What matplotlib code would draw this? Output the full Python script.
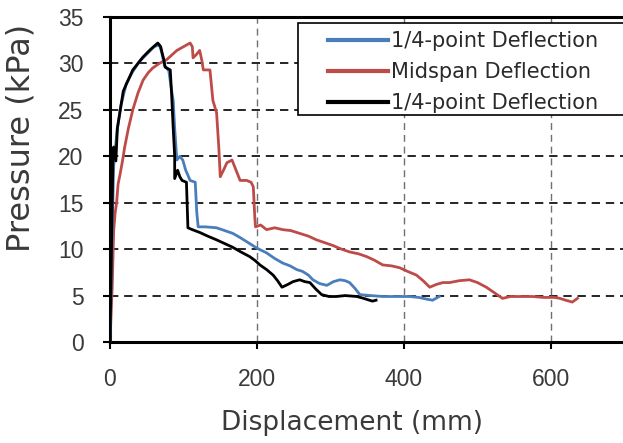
import matplotlib
matplotlib.use("Agg")
import matplotlib.pyplot as plt
from matplotlib.patches import Rectangle

plt.rcParams['font.family'] = ['Liberation Sans', 'DejaVu Sans']

# quarter-point deflection (blue)
quarter_x = [0, 3, 5, 10, 15, 22, 30, 40, 50, 60, 67, 70, 74, 80, 84, 86, 88, 91,
             95, 99, 103, 109, 116, 118, 120, 130, 145, 156, 167, 178, 190, 200,
             213, 224, 235, 245, 254, 262, 270, 276, 285, 295, 304, 313, 320, 326,
             333, 340, 355, 371, 390, 408, 420, 432, 439, 448]
quarter_p = [0, 12, 19, 23, 25.5, 27.8, 29, 30.2, 31, 31.8, 32.0, 31.3, 29.8, 29.2,
             27, 26, 23, 19.6, 20, 19.6, 18.5, 17.4, 17.2, 14, 12.4, 12.4, 12.3,
             12.0, 11.7, 11.2, 10.6, 10.1, 9.6, 9.0, 8.5, 8.2, 7.8, 7.6, 7.2, 6.7,
             6.3, 6.1, 6.5, 6.7, 6.6, 6.4, 5.8, 5.1, 5.0, 4.9, 4.9, 4.9, 4.8, 4.6,
             4.5, 4.9]

# midspan deflection (red)
mid_x = [0, 3, 5, 7, 9, 11, 14, 17, 20, 25, 31, 38, 45, 52, 58, 67, 77, 84, 91,
         100, 109, 112, 113, 118, 122, 125, 127, 136, 140, 145, 148, 150, 155, 159,
         166, 171, 177, 186, 192, 195, 197, 198, 205, 213, 224, 235, 246, 258, 270,
         281, 292, 303, 315, 326, 338, 349, 360, 371, 383, 394, 405, 417, 426, 435,
         444, 453, 462, 475, 489, 500, 512, 523, 534, 545, 560, 575, 590, 605, 612,
         620, 629, 636]
mid_p = [0, 6, 12, 13.9, 15, 17, 18.2, 19.5, 21, 23, 25, 26.8, 28.2, 29, 29.5, 30,
         30.4, 30.9, 31.4, 31.8, 32.2, 31.8, 30.6, 31, 31.4, 30.3, 29.3, 29.3, 26,
         24.7, 21, 17.8, 18.6, 19.3, 19.6, 18.6, 17.4, 17.4, 17.2, 16.7, 13.4, 12.4,
         12.6, 12.1, 12.3, 12.1, 12.0, 11.7, 11.4, 11.0, 10.7, 10.4, 10.0, 9.7, 9.5,
         9.2, 8.8, 8.3, 8.2, 8.0, 7.6, 7.2, 6.6, 5.9, 6.2, 6.4, 6.4, 6.6, 6.7, 6.4,
         5.9, 5.3, 4.7, 4.9, 4.9, 4.9, 4.8, 4.8, 4.7, 4.5, 4.3, 4.7]

# second quarter-point gauge (black)
quarter2_x = [0, 2, 3, 4, 5, 8, 10, 14, 18, 23, 31, 38, 45, 55, 65, 69, 71, 73, 75,
              82, 84, 86, 88, 88, 92, 95, 98, 104, 106, 112, 122, 133, 145, 156, 167,
              178, 190, 197, 204, 213, 222, 228, 234, 242, 249, 258, 265, 272, 280,
              288, 298, 308, 320, 336, 345, 357, 362]
quarter2_p = [0, 10, 15, 20, 21, 19.5, 23, 25, 27, 27.9, 29.3, 30, 30.7, 31.5, 32.2,
              31.8, 31.1, 30.5, 29.6, 29.3, 26.4, 23, 20, 17.6, 18.5, 17.8, 17.4, 17.2,
              12.3, 12.1, 11.8, 11.4, 11, 10.6, 10.2, 9.7, 9.2, 8.8, 8.3, 7.8, 7.2, 6.6,
              5.9, 6.2, 6.5, 6.7, 6.5, 6.4, 5.7, 5.1, 4.9, 4.9, 5.0, 4.9, 4.7, 4.4, 4.5]

labels = ['1/4-point Deflection', 'Midspan Deflection', '1/4-point Deflection']
colors = ['#4a7ebb', '#be4b48', 'black']

W, H = 623, 443
fig = plt.figure(figsize=(W / 100, H / 100), dpi=100)
ax = fig.add_axes([110 / W, 101 / H, 514.5 / W, 325 / H])

ax.plot(quarter_x, quarter_p, color=colors[0], lw=2, label=labels[0], zorder=3)
ax.plot(mid_x, mid_p, color=colors[1], lw=2, label=labels[1], zorder=2)
ax.plot(quarter2_x, quarter2_p, color=colors[2], lw=2, label=labels[2], zorder=4)

ax.set_xlim(0, 700)
ax.set_ylim(0, 35)
ax.set_xticks([0, 200, 400, 600])
ax.set_yticks(range(0, 36, 5))

# dashed grid: black horizontals, grey verticals
for y in range(5, 35, 5):
    ax.axhline(y, color='black', lw=1.2, ls=(0, (5, 3.5)), zorder=1)
for x in [200, 400, 600]:
    ax.axvline(x, color='#707070', lw=1.0, ls=(0, (5, 3.5)), zorder=1)

for side in ['left', 'bottom', 'top']:
    ax.spines[side].set_linewidth(2.2)
ax.spines['right'].set_visible(False)

ax.tick_params(axis='both', direction='out', length=5, width=1.5, colors='black',
               labelcolor='#3a3a3a', labelsize=16.5)
ax.tick_params(axis='x', pad=14)
ax.tick_params(axis='y', pad=14)
ax.tick_params(top=False, right=False)

fig.text(352 / W, 1 - 423 / H, 'Displacement (mm)', fontsize=19, color='#3a3a3a',
         family='DejaVu Sans', ha='center', va='center')
fig.text(21 / W, 1 - 138 / H, 'Pressure (kPa)', fontsize=23, color='#3a3a3a',
         family='DejaVu Sans', ha='center', va='center', rotation=90)

# legend box runs off the right edge
box = Rectangle((298 / W, 1 - 115 / H), 400 / W, 92 / H, transform=fig.transFigure,
                facecolor='white', edgecolor='black', lw=1.2, zorder=5, clip_on=False)
ax.add_patch(box)

leg = ax.legend(loc='upper left', bbox_to_anchor=(324 / W, 1 - 27 / H),
                bbox_transform=fig.transFigure,
                prop={'family': 'DejaVu Sans', 'size': 15}, frameon=False,
                handlelength=2.85, handletextpad=0.15, borderpad=0.2,
                labelspacing=0.52, borderaxespad=0)
leg.set_zorder(6)
for t in leg.get_texts():
    t.set_color('#2a2a2a')
for h in leg.get_lines():
    h.set_linewidth(3)

fig.savefig('out.png', dpi=100)
